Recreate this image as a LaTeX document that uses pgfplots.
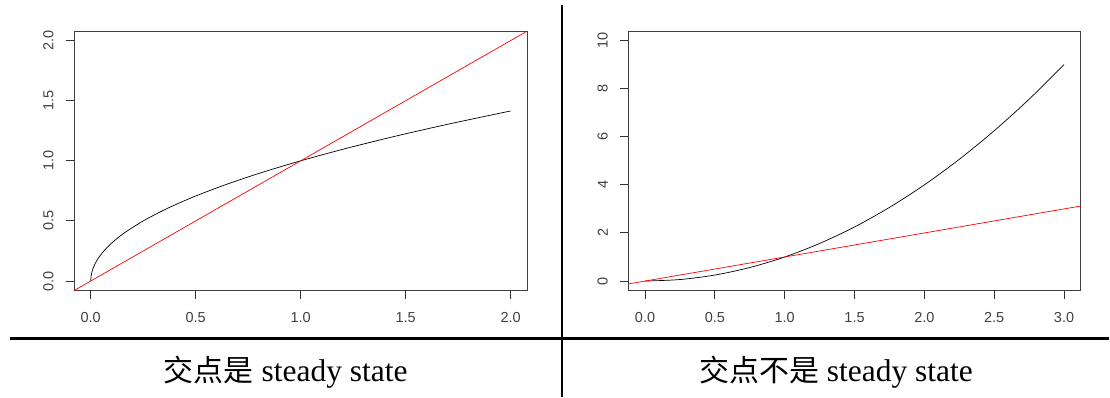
\documentclass[border=0pt]{standalone}
\usepackage{pgfplots}
\pgfplotsset{compat=1.18}
\usepackage{fontspec}
\setmainfont{Liberation Serif}
\newfontfamily\cjk{Noto Sans CJK SC}
\newfontfamily\tickfont{Liberation Sans}
\begin{document}
\begin{tikzpicture}
\path (0pt,0pt) rectangle (1110pt,397pt);
\pgfplotsset{
  rstyle/.style={
    scale only axis,
    anchor=south west,
    height=260pt,
    tick align=outside,
    major tick length=8pt,
    axis line style={black!75, line width=0.8pt},
    tick style={draw=black!80, line width=1pt},
    xtick pos=left, ytick pos=left,
    /pgf/number format/assume math mode=true,
    tick label style={font=\tickfont\fontsize{14.5}{16}\selectfont, text=black!75},
    yticklabel style={rotate=90, anchor=south},
    xticklabel shift=10pt,
    yticklabel shift=9pt,
  }
}
\begin{axis}[rstyle,
  at={(74pt,106pt)}, width=454pt,
  xmin=-0.08, xmax=2.08, ymin=-0.08, ymax=2.08,
  xtick={0,0.5,1,1.5,2}, ytick={0,0.5,1,1.5,2},
  xticklabel style={/pgf/number format/.cd, fixed, fixed zerofill, precision=1},
  yticklabel style={/pgf/number format/.cd, fixed, fixed zerofill, precision=1},
]
\addplot[black, line width=0.7pt, smooth] coordinates {
(0,0) (0.0025,0.05) (0.01,0.1) (0.0225,0.15) (0.04,0.2) (0.0625,0.25) (0.09,0.3) (0.1225,0.35) (0.16,0.4) (0.25,0.5) (0.36,0.6) (0.49,0.7) (0.64,0.8) (0.81,0.9) (1,1) (1.21,1.1) (1.44,1.2) (1.69,1.3) (1.96,1.4) (2,1.4142)
};
\addplot[red, line width=0.7pt] coordinates {(-0.08,-0.08) (2.08,2.08)};
\coordinate (ax0) at (axis cs:0,-0.08);
\coordinate (ax1) at (axis cs:0.5,-0.08);
\coordinate (ax2) at (axis cs:1,-0.08);
\coordinate (ax3) at (axis cs:1.5,-0.08);
\coordinate (ax4) at (axis cs:2,-0.08);
\coordinate (ay0) at (axis cs:-0.08,0);
\coordinate (ay1) at (axis cs:-0.08,0.5);
\coordinate (ay2) at (axis cs:-0.08,1);
\coordinate (ay3) at (axis cs:-0.08,1.5);
\coordinate (ay4) at (axis cs:-0.08,2);
\end{axis}
\begin{axis}[rstyle,
  at={(629pt,106pt)}, width=453pt,
  xmin=-0.12, xmax=3.12, ymin=-0.4, ymax=10.4,
  xtick={0,0.5,1,1.5,2,2.5,3}, ytick={0,2,4,6,8,10},
  xticklabel style={/pgf/number format/.cd, fixed, fixed zerofill, precision=1},
]
\addplot[black, line width=0.7pt, smooth] coordinates {
(0,0) (0.25,0.0625) (0.5,0.25) (0.75,0.5625) (1,1) (1.25,1.5625) (1.5,2.25) (1.75,3.0625) (2,4) (2.25,5.0625) (2.5,6.25) (2.75,7.5625) (3,9)
};
\addplot[red, line width=0.7pt] coordinates {(-0.12,-0.12) (3.12,3.12)};
\coordinate (bx0) at (axis cs:0,-0.4);
\coordinate (bx1) at (axis cs:0.5,-0.4);
\coordinate (bx2) at (axis cs:1,-0.4);
\coordinate (bx3) at (axis cs:1.5,-0.4);
\coordinate (bx4) at (axis cs:2,-0.4);
\coordinate (bx5) at (axis cs:2.5,-0.4);
\coordinate (bx6) at (axis cs:3,-0.4);
\coordinate (by0) at (axis cs:-0.12,0);
\coordinate (by1) at (axis cs:-0.12,2);
\coordinate (by2) at (axis cs:-0.12,4);
\coordinate (by3) at (axis cs:-0.12,6);
\coordinate (by4) at (axis cs:-0.12,8);
\coordinate (by5) at (axis cs:-0.12,10);
\end{axis}
\foreach \n in {ax0,ax1,ax2,ax3,ax4,bx0,bx1,bx2,bx3,bx4,bx5,bx6}{
  \draw[black!80, line width=1pt] (\n) -- ++(0pt,-8pt);
}
\foreach \n in {ay0,ay1,ay2,ay3,ay4,by0,by1,by2,by3,by4,by5}{
  \draw[black!80, line width=1pt] (\n) -- ++(-8pt,0pt);
}
\draw[line width=2.5pt] (10pt,58pt) -- (1110pt,58pt);
\draw[line width=2pt] (563pt,0pt) -- (563pt,392pt);
\node[anchor=base, font=\fontsize{31.5}{36}\selectfont] at (286pt,15pt) {{\cjk\fontsize{30}{36}\selectfont 交点是} steady state};
\node[anchor=base, font=\fontsize{31.5}{36}\selectfont] at (837pt,15pt) {{\cjk\fontsize{30}{36}\selectfont 交点不是} steady state};
\end{tikzpicture}
\end{document}
